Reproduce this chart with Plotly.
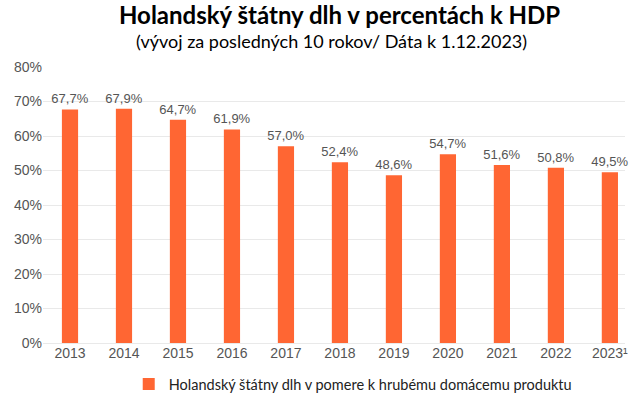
import plotly.graph_objects as go

years = ["2013", "2014", "2015", "2016", "2017", "2018", "2019", "2020", "2021", "2022", "2023¹"]
debt_pct = [67.7, 67.9, 64.7, 61.9, 57.0, 52.4, 48.6, 54.7, 51.6, 50.8, 49.5]
y_ticks = [0, 10, 20, 30, 40, 50, 60, 70, 80]
y_tick_labels = [f"{t}%" for t in y_ticks]
labels = [f"{v:.1f}%".replace(".", ",") for v in debt_pct]

BAR = "#FF6633"
GRAY = "#555555"

fig = go.Figure()
fig.add_trace(go.Bar(
    x=list(range(len(years))),
    y=debt_pct,
    width=0.3,
    marker=dict(color=BAR, line=dict(width=0)),
    text=labels,
    textposition="outside",
    constraintext="none",
    textfont=dict(family="Liberation Sans, Arial", size=13, color=GRAY),
    cliponaxis=False,
    name="Holandský štátny dlh v pomere k hrubému domácemu produktu",
    showlegend=True,
))

fig.update_layout(
    width=631, height=398,
    margin=dict(l=43, r=6, t=67, b=55, autoexpand=False),
    paper_bgcolor="white", plot_bgcolor="white",
    xaxis=dict(
        tickmode="array",
        tickvals=list(range(len(years))),
        ticktext=years,
        range=[-0.5, 10.28],
        showgrid=False, zeroline=False, showline=False,
        tickfont=dict(family="Liberation Sans, Arial", size=14, color=GRAY),
        ticks="", ticklen=0,
    ),
    yaxis=dict(
        range=[0, 80],
        tickmode="array",
        tickvals=y_ticks,
        ticktext=y_tick_labels,
        showgrid=True, gridcolor="#E9E9E9", gridwidth=1,
        zeroline=True, zerolinecolor="#E9E9E9", zerolinewidth=1,
        showline=False,
        tickfont=dict(family="Liberation Sans, Arial", size=14, color=GRAY),
        ticks="", ticklen=0,
    ),
    legend=dict(
        orientation="h",
        x=0.559, xanchor="center", xref="container",
        y=0.035, yanchor="middle", yref="container",
        font=dict(family="Lato, Noto Sans", size=14.5, color="#222222"),
    ),
    annotations=[
        dict(text="<b>Holandský štátny dlh v percentách k HDP</b>",
             xref="paper", yref="paper", x=0.51, y=1.0, yshift=53,
             xanchor="center", yanchor="middle", showarrow=False,
             font=dict(family="Lato, Noto Sans", size=24, color="black")),
        dict(text="(vývoj za posledných 10 rokov/ Dáta k 1.12.2023)",
             xref="paper", yref="paper", x=0.495, y=1.0, yshift=26,
             xanchor="center", yanchor="middle", showarrow=False,
             font=dict(family="Lato, Noto Sans", size=18, color="black")),
    ],
)

fig.write_html("out.html", config={"displayModeBar": False},
               post_script="document.body.style.margin='0';document.body.style.overflow='hidden';")
